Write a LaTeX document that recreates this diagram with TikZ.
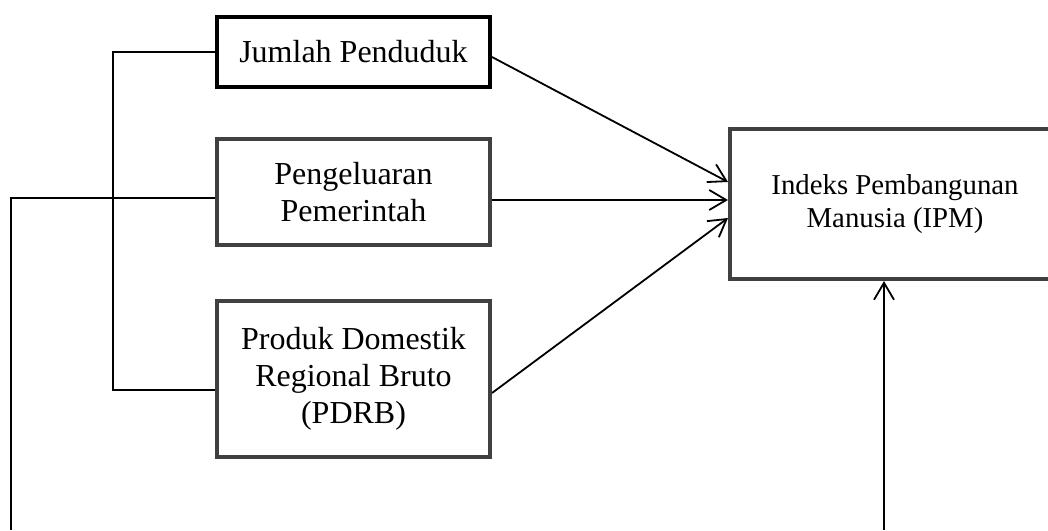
\documentclass[tikz,border=0pt]{standalone}
\usepackage{fontspec}
\setmainfont{Liberation Serif}
\usetikzlibrary{arrows.meta,positioning}
\usepackage{xcolor}
\definecolor{boxgray}{rgb}{0.25, 0.25, 0.25}

\begin{document}
\begin{tikzpicture}[x=0.5pt,y=-0.5pt,
	varbox/.style={draw=boxgray,line width=2.2pt,align=center,inner sep=0pt,
		font=\fontsize{16}{18.5}\selectfont},
	link/.style={line width=0.9pt},
	arrow/.style={link,-{Straight Barb[length=8.5pt,width=10pt]}}]
	% Fix the size of the page.
	\useasboundingbox (0,0) rectangle (1048,530);

	% The three variables on the left.
	\node (jp) at (353.5,52) [varbox, draw=black, line width=1.8pt,
		minimum width=136.7pt, minimum height=35.2pt] {Jumlah Penduduk};
	\node (pp) at (353.5,192) [varbox, minimum width=136.3pt, minimum height=52.8pt]
		{Pengeluaran\\Pemerintah};
	\node (pdrb) at (353.5,379) [varbox, minimum width=136.3pt, minimum height=77.8pt]
		{Produk Domestik\\Regional Bruto\\(PDRB)};

	% The dependent variable, its right side runs off the page.
	\node (ipm) at (895,204) [varbox, minimum width=164.8pt, minimum height=74.8pt,
		font=\fontsize{14.4}{16.5}\selectfont] {Indeks Pembangunan\\Manusia (IPM)};

	% Bracket joining the three variables.
	\coordinate (split) at (113,198);
	\draw [link] (jp.west) -| (split) |- ([yshift=-5.5pt]pdrb.west);
	\draw [link] (split) -- (split -| pp.west);

	% Loop that leaves the page at the bottom.
	\coordinate (loopL) at (11,530);
	\coordinate (loopR) at (884,530);
	\draw [link] (split) -| (loopL);
	\draw [arrow] (loopR) -- (loopR |- ipm.south);

	% Arrows into IPM.
	\draw [arrow] ([yshift=-2.5pt]jp.east) -- ([yshift=11pt]ipm.west);
	\draw [arrow] ([yshift=-4pt]pp.east) -- ([yshift=2pt]ipm.west);
	\draw [arrow] ([yshift=-7pt]pdrb.east) -- ([yshift=-7pt]ipm.west);
\end{tikzpicture}
\end{document}
